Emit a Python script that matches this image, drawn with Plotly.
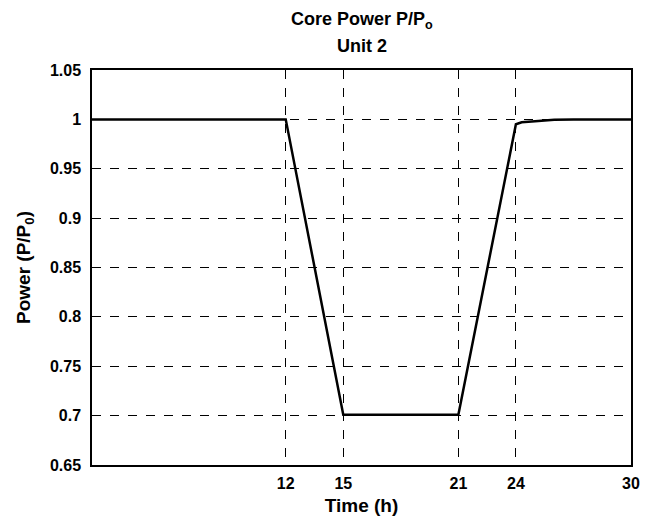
import plotly.graph_objects as go

time_h = [1.9, 12.0, 15.0, 21.0, 24.0, 24.3, 25.0, 26.0, 27.0, 30.0]
power = [1.0, 1.0, 0.701, 0.701, 0.995, 0.997, 0.998, 0.9995, 1.0, 1.0]
x_ticks = [12, 15, 21, 24, 30]
y_ticks = [0.65, 0.7, 0.75, 0.8, 0.85, 0.9, 0.95, 1.0, 1.05]
y_ticklabels = ["0.65", "0.7", "0.75", "0.8", "0.85", "0.9", "0.95", "1", "1.05"]

fig = go.Figure()
fig.add_trace(go.Scatter(x=time_h, y=power, mode="lines",
                         line=dict(color="black", width=2.5), showlegend=False))

font = dict(family="Liberation Sans, Arial, sans-serif", color="black")

fig.update_layout(
    width=657, height=525,
    margin=dict(l=92, r=26, t=70, b=58),
    paper_bgcolor="white", plot_bgcolor="white",
    font=font,
    annotations=[
        dict(text="<b>Core Power P/P<sub>o</sub></b>", x=0.5, xref="paper",
             y=1, yref="paper", yshift=50, xanchor="center", yanchor="middle",
             showarrow=False, font=dict(size=18, **font)),
        dict(text="<b>Unit 2</b>", x=0.5, xref="paper",
             y=1, yref="paper", yshift=24, xanchor="center", yanchor="middle",
             showarrow=False, font=dict(size=18, **font)),
    ],
    xaxis=dict(range=[1.9, 30], tickvals=x_ticks,
               ticktext=[f"<b>{t}</b>" for t in x_ticks],
               showgrid=True, gridcolor="black", griddash="dash", gridwidth=1,
               showline=True, linecolor="black", linewidth=1.5, mirror=True,
               ticks="", zeroline=False, tickfont=dict(size=16, **font),
               ticklabelstandoff=3,
               title=dict(text="<b>Time (h)</b>", font=dict(size=19, **font), standoff=8)),
    yaxis=dict(range=[0.65, 1.05], tickvals=y_ticks,
               ticktext=[f"<b>{t}</b>" for t in y_ticklabels],
               showgrid=True, gridcolor="black", griddash="dash", gridwidth=1,
               showline=True, linecolor="black", linewidth=1.5, mirror=True,
               ticks="", zeroline=False, tickfont=dict(size=16, **font),
               ticklabelstandoff=6,
               title=dict(text="<b>Power (P/P<sub>0</sub>)</b>", font=dict(size=19, **font), standoff=14)),
)

fig.write_html("out.html")
